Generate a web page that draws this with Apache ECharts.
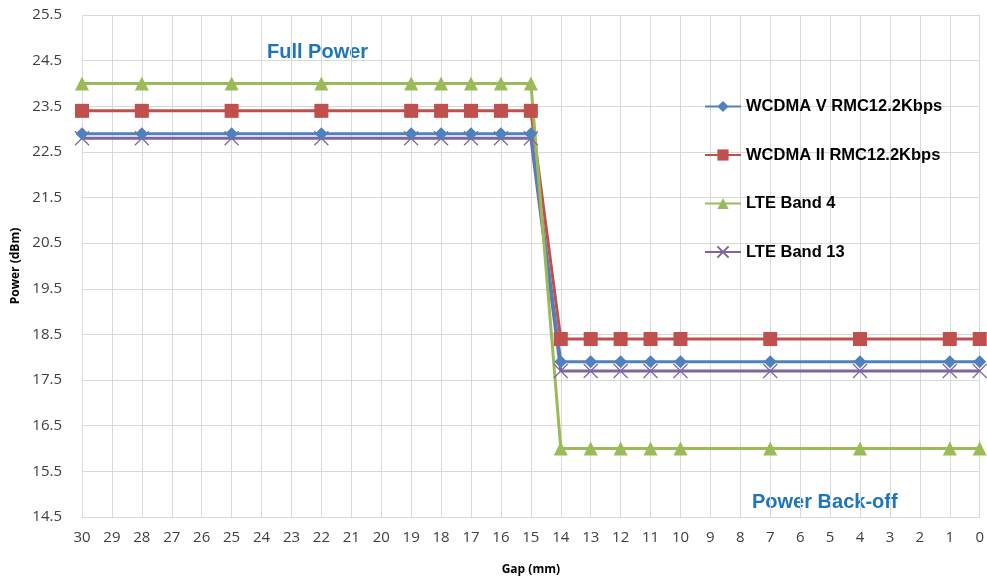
<!DOCTYPE html>
<html><head><meta charset="utf-8">
<script src="https://cdn.jsdelivr.net/npm/echarts@6/dist/echarts.min.js"></script>
<style>html,body{margin:0;padding:0;background:#fff}#c{width:987px;height:581px}</style>
</head><body><div id="c"></div>
<script>
const gaps = [30, 28, 25, 22, 19, 18, 17, 16, 15, 14, 13, 12, 11, 10, 7, 4, 1, 0];
const wcdmaV  = [22.9, 22.9, 22.9, 22.9, 22.9, 22.9, 22.9, 22.9, 22.9, 17.9, 17.9, 17.9, 17.9, 17.9, 17.9, 17.9, 17.9, 17.9];
const wcdmaII = [23.4, 23.4, 23.4, 23.4, 23.4, 23.4, 23.4, 23.4, 23.4, 18.4, 18.4, 18.4, 18.4, 18.4, 18.4, 18.4, 18.4, 18.4];
const lteB4   = [24.0, 24.0, 24.0, 24.0, 24.0, 24.0, 24.0, 24.0, 24.0, 16.0, 16.0, 16.0, 16.0, 16.0, 16.0, 16.0, 16.0, 16.0];
const lteB13  = [22.8, 22.8, 22.8, 22.8, 22.8, 22.8, 22.8, 22.8, 22.8, 17.7, 17.7, 17.7, 17.7, 17.7, 17.7, 17.7, 17.7, 17.7];
const seriesNames = ['WCDMA V RMC12.2Kbps', 'WCDMA II RMC12.2Kbps', 'LTE Band 4', 'LTE Band 13'];
const annotations = ['Full Power', 'Power Back-off'];

const pair = arr => gaps.map((g, i) => [g, arr[i]]);
const font = 'Liberation Sans, Arial, sans-serif';
const lblFont = 'Open Sans, Lato, sans-serif';
const chart = echarts.init(document.getElementById('c'));
const mk = (name, data, color, symbol, size, extra) => Object.assign({
  name, type: 'line', data: pair(data), symbol, symbolSize: size,
  lineStyle: { color, width: 3 }, itemStyle: { color },
  emphasis: { disabled: true }, animation: false
}, extra || {});
chart.setOption({
  backgroundColor: '#fff',
  animation: false,
  grid: { left: 82, right: 4, top: 15, bottom: 63, containLabel: false },
  xAxis: {
    type: 'value', inverse: true, min: 0, max: 30, interval: 1,
    name: 'Gap (mm)', nameLocation: 'middle', nameGap: 47,
    nameTextStyle: { fontFamily: lblFont, fontWeight: 'bold', fontSize: 12, color: '#000' },
    axisLine: { show: true, lineStyle: { color: '#d9d9d9' } },
    axisTick: { show: false },
    axisLabel: { fontFamily: lblFont, fontSize: 15, color: '#404040', margin: 13 },
    splitLine: { show: true, lineStyle: { color: '#d9d9d9', width: 1 } }
  },
  yAxis: {
    type: 'value', min: 14.5, max: 25.5, interval: 1,
    name: 'Power (dBm)', nameLocation: 'middle', nameGap: 59, nameRotate: 90,
    nameTextStyle: { fontFamily: lblFont, fontWeight: 'bold', fontSize: 12, color: '#000' },
    axisLine: { show: true, lineStyle: { color: '#d9d9d9' } },
    axisTick: { show: false },
    axisLabel: { fontFamily: lblFont, fontSize: 15, color: '#404040', margin: 20,
      formatter: v => v.toFixed(1) },
    splitLine: { show: true, lineStyle: { color: '#d9d9d9', width: 1 } }
  },
  legend: {
    orient: 'vertical', left: 699, top: 93, itemGap: 31.5, itemWidth: 36, itemHeight: 14,
    textStyle: { fontFamily: font, fontSize: 16.5, color: '#000', fontWeight: 'bold' },
    data: seriesNames
  },
  graphic: [
    { type: 'text', left: 267, top: 42, style: { text: annotations[0], fill: '#1f75b9', font: 'bold 20px ' + font } },
    { type: 'text', left: 752, top: 492, style: { text: annotations[1], fill: '#1f75b9', font: 'bold 20px ' + font } }
  ],
  series: [
    mk(seriesNames[3], lteB13, '#8064A2', 'path://M0,0L10,10M10,0L0,10', 14,
       { itemStyle: { color: '#8064A2', borderColor: '#8064A2', borderWidth: 1.2 } }),
    mk(seriesNames[0], wcdmaV, '#4F81BD', 'diamond', 13),
    mk(seriesNames[1], wcdmaII, '#C0504D', 'rect', 14),
    mk(seriesNames[2], lteB4, '#9BBB59', 'triangle', 14)
  ]
});
</script></body></html>
